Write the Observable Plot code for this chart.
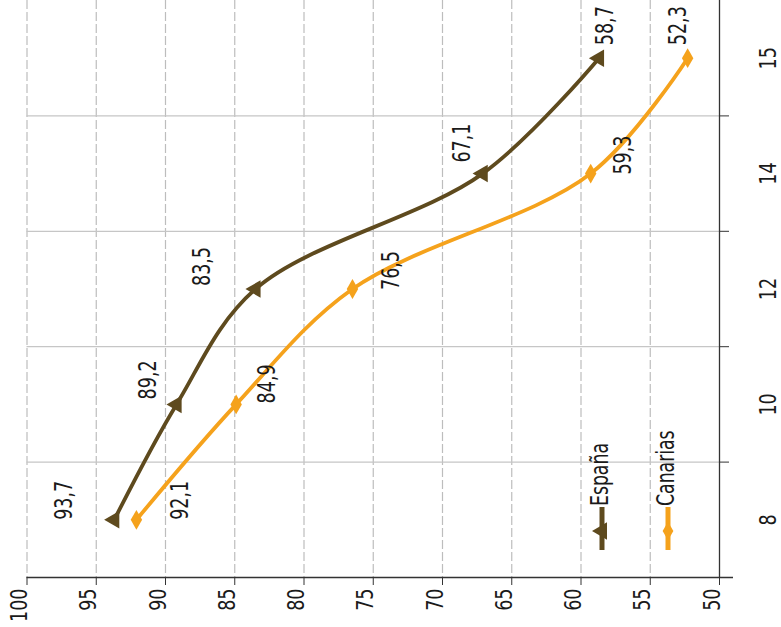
<!DOCTYPE html>
<html>
<head>
<meta charset="utf-8">
<script src="https://cdn.jsdelivr.net/npm/d3@7"></script>
<script src="https://cdn.jsdelivr.net/npm/@observablehq/plot@0.6"></script>
<style>
  html, body { margin: 0; padding: 0; background: #fff; }
  #chart { width: 781px; height: 627px; overflow: hidden; }
</style>
</head>
<body>
<div id="chart"></div>
<script>
// ---- data ----
const ages = ["8", "10", "12", "14", "15"];
const espana = [93.7, 89.2, 83.5, 67.1, 58.7];
const canarias = [92.1, 84.9, 76.5, 59.3, 52.3];
const seriesNames = ["España", "Canarias"];
const valueTicks = [100, 95, 90, 85, 80, 75, 70, 65, 60, 55, 50];

// ---- styling / layout ----
const colors = ["#5e4a1e", "#f5a21c"];
const symbols = ["triangle", "diamond"];
const symbolRotate = [-90, 0];
const FONT = "'DejaVu Sans Condensed', 'Liberation Sans Narrow', sans-serif";
// per-label nudges [dx, dy] (layout only)
const labelNudge = [
  [[-50, 0], [-29, -5], [-54, -3], [-21, -11], [6, -13]],
  [[44, 0], [31, -1], [39, 1], [32, 1], [-10, -13]]
];

const seriesValues = [espana, canarias];
const rows = seriesNames.flatMap((s, si) =>
  seriesValues[si].map((v, i) => ({series: s, si, idx: i, age: ages[i], value: v}))
);
const boundaries = d3.range(-0.5, ages.length - 0.5, 1); // band edges

const fmt = v => v.toFixed(1).replace(".", ",");

const labelMarks = rows.map(r => Plot.text([r], {
  x: "value", y: "idx", text: d => fmt(d.value),
  rotate: -90, textAnchor: "start",
  dx: labelNudge[r.si][r.idx][0], dy: labelNudge[r.si][r.idx][1],
  fontSize: 25, fill: "#1a1a1a", className: "vlabel"
}));

const legendMark = (index, scales, values, dims) => {
  const g = d3.create("svg:g");
  const right = dims.width - dims.marginRight;
  const bottom = dims.height - dims.marginBottom;
  const offsets = [117, 51];
  seriesNames.forEach((s, i) => {
    const cx = right - offsets[i];
    g.append("line").attr("x1", cx).attr("x2", cx)
      .attr("y1", bottom - 70).attr("y2", bottom - 27)
      .attr("stroke", colors[i]).attr("stroke-width", 5);
    const sym = d3.symbol(i === 0 ? d3.symbolTriangle : d3.symbolDiamond, i === 0 ? 130 : 100)();
    g.append("path").attr("d", sym)
      .attr("transform", `translate(${cx},${bottom - 46}) rotate(${symbolRotate[i]})`)
      .attr("fill", colors[i]);
    g.append("text").text(s)
      .attr("transform", `translate(${cx - 2},${bottom - 71}) rotate(-90) scale(0.8,1)`)
      .attr("dy", "0.35em")
      .attr("text-anchor", "start")
      .attr("font-size", 24).attr("fill", "#1a1a1a");
  });
  return g.node();
};

const chart = Plot.plot({
  width: 781,
  height: 627,
  marginLeft: 26.5,
  marginRight: 62,
  marginTop: 0,
  marginBottom: 50,
  x: {domain: [100, 50], axis: null},
  y: {domain: [-0.5, ages.length - 0.5], axis: null},
  color: {domain: seriesNames, range: colors},
  symbol: {domain: seriesNames, range: symbols},
  style: {fontFamily: FONT, background: "#fff", color: "#1a1a1a"},
  marks: [
    // vertical dashed grid
    Plot.ruleX(valueTicks.slice(0, -1), {stroke: "#bdbdbd", strokeWidth: 1.2, strokeDasharray: "9,3"}),
    // horizontal solid grid at band edges
    Plot.ruleY(boundaries.slice(1), {stroke: "#c6c6c6", strokeWidth: 1.2}),
    // right axis line
    Plot.ruleX([50], {stroke: "#333", strokeWidth: 1.3}),
    // bottom axis line
    Plot.ruleY([-0.5], {stroke: "#333", strokeWidth: 1.3, insetRight: -14}),
    // bottom ticks
    Plot.axisX(valueTicks, {tickSize: 8, tickFormat: () => "", label: null, stroke: "#333"}),
    Plot.text(valueTicks, {x: d => d, frameAnchor: "bottom", dy: 11, rotate: -90, textAnchor: "end", fontSize: 23, fill: "#1a1a1a", className: "tlabel"}),
    // right ticks + labels
    Plot.axisY(boundaries, {anchor: "right", tickSize: 9, tickFormat: () => "", label: null, stroke: "#333"}),
    Plot.text(ages, {y: (d, i) => i, frameAnchor: "right", dx: 49, rotate: -90, textAnchor: "middle", fontSize: 23, fill: "#1a1a1a", className: "tlabel"}),
    // series lines
    Plot.line(rows, {x: "value", y: "idx", z: "series", stroke: "series", strokeWidth: 3.8, curve: "catmull-rom"}),
    // markers
    Plot.dot(rows.filter(r => r.si === 0), {x: "value", y: "idx", symbol: "series", fill: "series", r: 6.5, rotate: -90}),
    Plot.dot(rows.filter(r => r.si === 1), {x: "value", y: "idx", symbol: "series", fill: "series", r: 6}),
    ...labelMarks,
    legendMark
  ]
});
// condense rotated text along its reading direction
d3.select(chart).selectAll("g.vlabel text, g.tlabel text").each(function() {
  const t = this.getAttribute("transform") || "";
  const sx = this.parentNode.classList.contains("vlabel") ? 0.78 : 0.85;
  this.setAttribute("transform", t + ` scale(${sx},1)`);
});
document.getElementById("chart").appendChild(chart);
</script>
</body>
</html>
